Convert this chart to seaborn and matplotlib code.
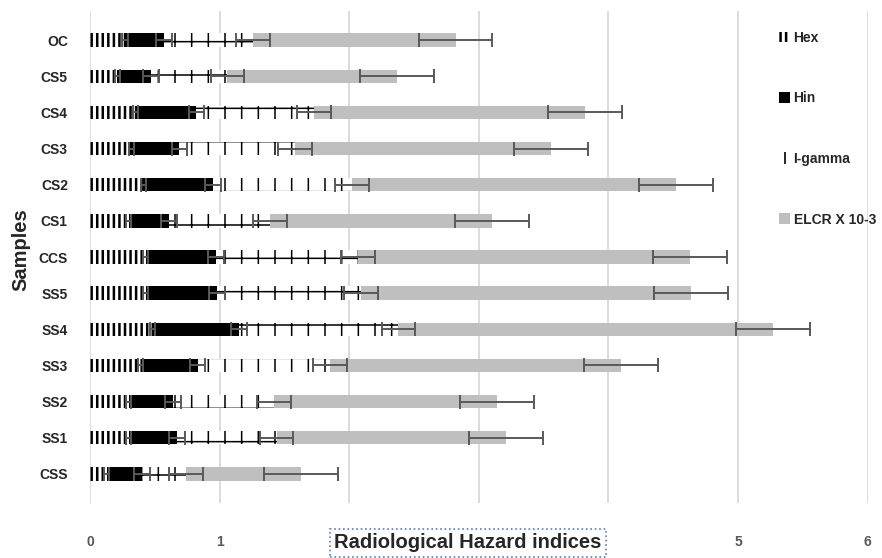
import matplotlib
matplotlib.use("Agg")
import matplotlib.pyplot as plt
from matplotlib.patches import Patch
from matplotlib.lines import Line2D
import numpy as np
import pandas as pd
import seaborn as sns

# values (top bar first)
samples = ["OC", "CS5", "CS4", "CS3", "CS2", "CS1", "CCS",
           "SS5", "SS4", "SS3", "SS2", "SS1", "CSS"]
hex_vals = [0.27, 0.21, 0.35, 0.32, 0.41, 0.30, 0.43, 0.43, 0.48, 0.39, 0.30, 0.30, 0.13]
hin_vals = [0.30, 0.26, 0.47, 0.37, 0.54, 0.31, 0.54, 0.55, 0.67, 0.44, 0.34, 0.37, 0.27]
igamma_vals = [0.69, 0.59, 0.91, 0.89, 1.07, 0.78, 1.10, 1.11, 1.23, 1.02, 0.78, 0.77, 0.34]
elcr_vals = [1.56, 1.31, 2.09, 1.98, 2.50, 1.71, 2.56, 2.55, 2.89, 2.25, 1.72, 1.77, 0.89]

hex_err = [0.02, 0.02, 0.02, 0.02, 0.02, 0.02, 0.02, 0.02, 0.02, 0.02, 0.02, 0.02, 0.02]
hin_err = [0.06, 0.06, 0.06, 0.06, 0.06, 0.06, 0.06, 0.06, 0.06, 0.06, 0.06, 0.06, 0.06]
igamma_err = [0.13, 0.13, 0.13, 0.13, 0.13, 0.13, 0.13, 0.13, 0.13, 0.13, 0.13, 0.13, 0.13]
elcr_err = [0.285, 0.285, 0.285, 0.285, 0.285, 0.285, 0.285, 0.285, 0.285, 0.285, 0.285, 0.285, 0.285]

series = ["Hex", "Hin", "I-gamma", "ELCR X 10-3"]
xticks = [0, 1, 2, 3, 4, 5, 6]
xticklabels = ["0", "1", "", "", "", "5", "6"]

sns.set_style("whitegrid")
plt.rcParams["font.family"] = ["Liberation Sans", "DejaVu Sans"]

df = pd.DataFrame({"Sample": samples, "Hex": hex_vals, "Hin": hin_vals,
                   "I-gamma": igamma_vals, "ELCR": elcr_vals})
df["c1"] = df["Hex"]
df["c2"] = df["c1"] + df["Hin"]
df["c3"] = df["c2"] + df["I-gamma"]
df["c4"] = df["c3"] + df["ELCR"]

fig = plt.figure(figsize=(8.82, 5.58), dpi=100)
ax = fig.add_axes([90 / 882, 1 - 503 / 558, 777.7 / 882, 492 / 558])

# stacked look: draw cumulative totals back to front
layers = [
    ("c4", dict(color="#bfbfbf", linewidth=0), 1.0),
    ("c3", dict(color="white", edgecolor="black", linewidth=0, hatch="+"), 1.1),
    ("c2", dict(color="black", linewidth=0), 1.0),
    ("c1", dict(color="white", edgecolor="black", linewidth=0, hatch="|||"), 1.8),
]
for col, kw, hlw in layers:
    with plt.rc_context({"hatch.linewidth": hlw}):
        n_before = len(ax.patches)
        sns.barplot(data=df, x=col, y="Sample", orient="y", width=0.37,
                    saturation=1, errorbar=None, ax=ax, **kw)
        for p in ax.patches[n_before:]:
            if hasattr(p, "set_hatch_linewidth"):
                p.set_hatch_linewidth(hlw)

ypos = np.arange(len(samples))
for col, err in [("c1", hex_err), ("c2", hin_err), ("c3", igamma_err), ("c4", elcr_err)]:
    ax.errorbar(df[col], ypos, xerr=err, fmt="none", ecolor="#595959",
                elinewidth=1.4, capsize=5, capthick=1.4, zorder=5)

ax.set_xlim(0, 6)
ax.set_xticks(xticks)
ax.set_xticklabels(xticklabels, fontweight="bold", color="#595959", fontsize=10)
ax.set_yticks(ypos)
ax.set_yticklabels(samples, fontweight="bold", fontsize=10)
ax.tick_params(axis="x", length=0, pad=23)
ax.tick_params(axis="y", length=0, pad=16)
ax.grid(axis="x", color="#d9d9d9", linewidth=1.3)
ax.grid(axis="y", visible=False)
ax.set_axisbelow(True)
for s in ax.spines.values():
    s.set_visible(False)
ax.set_xlabel("")
ax.set_ylabel("")

fig.text(21 / 882, 1 - 250 / 558, "Samples", rotation=90, ha="center", va="center",
         fontsize=14.5, fontweight="bold")
fig.text(468 / 882, 1 - 543 / 558, "Radiological Hazard indices", ha="center", va="center",
         fontsize=14.5, fontweight="bold",
         bbox=dict(boxstyle="square,pad=0.2", facecolor="white",
                   edgecolor="#4f81bd", linestyle=":", linewidth=1.2))

with plt.rc_context({"hatch.linewidth": 1.8}):
    handles = [
        Patch(facecolor="white", edgecolor="black", hatch="|||", linewidth=0, label=series[0]),
        Patch(facecolor="black", linewidth=0, label=series[1]),
        Line2D([], [], marker="|", linestyle="None", color="black", markersize=9,
               markeredgewidth=1.2, label=series[2]),
        Patch(facecolor="#bfbfbf", linewidth=0, label=series[3]),
    ]
    fig.legend(handles=handles, loc="upper left", bbox_to_anchor=(772 / 882, 1 - 24 / 558),
               frameon=False, handlelength=0.8, handleheight=0.8, handletextpad=0.25,
               labelspacing=3.35, borderpad=0, prop=dict(weight="bold", size=10))

fig.savefig("out.png", dpi=100)
